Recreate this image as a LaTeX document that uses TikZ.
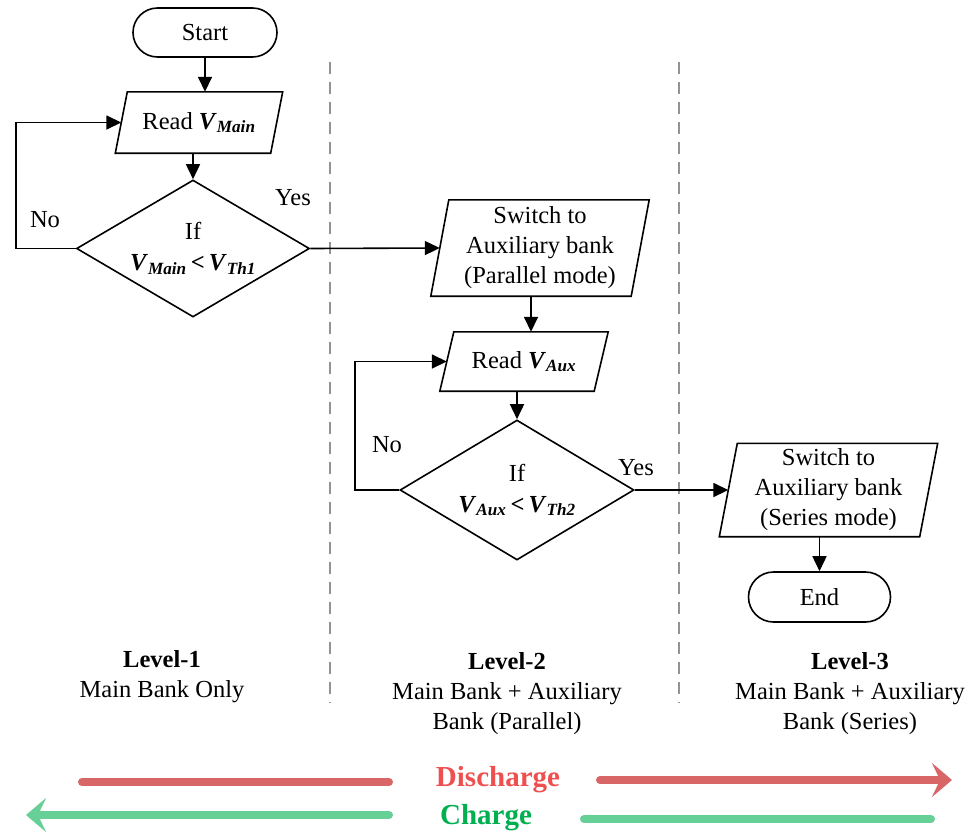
\documentclass[tikz,border=0pt]{standalone}
\usepackage{fontspec}
\setmainfont{Liberation Serif}
\usetikzlibrary{shapes.geometric,shapes.misc,arrows.meta}
\newcommand\bvar[2]{\textbf{\textit{#1}}\textsubscript{\textbf{\textit{#2}}}}
\newcommand\paradraw[2]{\draw[flow] ([xshift=#2/2]#1.north west) -- ([xshift=#2/2]#1.north east) -- ([xshift=-#2/2]#1.south east) -- ([xshift=-#2/2]#1.south west) -- cycle;}
\tikzset{
  mainfont/.style={font=\fontsize{24.5}{30}\selectfont},
  flow/.style={line width=1.6pt, line join=miter},
  term/.style={rounded rectangle, draw, line width=1.6pt, inner sep=0pt, mainfont},
  parabox/.style={inner sep=0pt, align=center, mainfont},
  decide/.style={diamond, draw, line width=1.6pt, inner sep=0pt, aspect=1.7, align=center, mainfont},
  conn/.style={line width=1.6pt, -{Triangle[length=15pt,width=14pt]}},
  lbl/.style={mainfont},
  levtext/.style={align=center, mainfont},
  sep/.style={draw=gray!85, line width=1.5pt, dash pattern=on 12pt off 8pt},
  dis/.style={draw={rgb,255:red,217;green,102;blue,102}, line width=8pt, line cap=round},
  chg/.style={draw={rgb,255:red,102;green,208;blue,150}, line width=8pt, line cap=round},
  bigtip/.style={-{Stealth[length=20pt,width=34pt,inset=8pt]}},
}
\begin{document}
\begin{tikzpicture}[x=1pt,y=-1pt]
\useasboundingbox (0,0) rectangle (972,833);

% separators
\draw[sep] (330,62) -- (330,703);
\draw[sep] (679,62) -- (679,703);

% nodes
\node[term, minimum width=144pt, minimum height=49pt] (start) at (205,32.5) {Start};
\node[parabox, minimum width=155pt, minimum height=61pt] (rm) at (199,122.5) {Read \bvar{V}{Main}};
\paradraw{rm}{12}
\node[decide, minimum width=233pt, minimum height=137pt] (d1) at (193,248.5) {If\\[1pt]\bvar{V}{Main}\,\textbf{<}\,\bvar{V}{Th1}};

\node[parabox, minimum width=200pt, minimum height=96pt] (s1) at (540,248) {Switch to\\Auxiliary bank\\(Parallel mode)};
\paradraw{s1}{18}
\node[parabox, minimum width=154pt, minimum height=59pt] (ra) at (524,361.5) {Read \bvar{V}{Aux}};
\paradraw{ra}{14}
\node[decide, minimum width=234pt, minimum height=140pt] (d2) at (517,490) {If\\[1pt]\bvar{V}{Aux}\,\textbf{<}\,\bvar{V}{Th2}};

\node[parabox, minimum width=200pt, minimum height=93pt] (s3) at (828.5,490) {Switch to\\Auxiliary bank\\(Series mode)};
\paradraw{s3}{18}
\node[term, minimum width=142pt, minimum height=50pt] (end) at (819.5,597) {End};

% connectors
\draw[conn] (start.south) -- ([xshift=6]rm.north);
\draw[conn] ([xshift=-6]rm.south) -- (d1.north);
\draw[conn] (d1.west) -- ++(-60,0) |- (rm.west);
\draw[conn] (d1.east) -- (s1.west);
\draw[conn] ([xshift=-9]s1.south) -- ([xshift=7]ra.north);
\draw[conn] ([xshift=-7]ra.south) -- (d2.north);
\draw[conn] (d2.west) -- ++(-44,0) |- (ra.west);
\draw[conn] (d2.east) -- (s3.west);
\draw[conn] ([xshift=-9]s3.south) -- (end.north);

% labels
\node[lbl] (no1) at (45,220) {No};
\node[lbl] (yes1) at (293,198) {Yes};
\node[lbl] (no2) at (387,445) {No};
\node[lbl] (yes2) at (636,468) {Yes};

% levels
\node[levtext] (lev1) at (162,677) {\textbf{Level-1}\\Main Bank Only};
\node[levtext] (lev2) at (507,694) {\textbf{Level-2}\\Main Bank + Auxiliary\\Bank (Parallel)};
\node[levtext] (lev3) at (850,694) {\textbf{Level-3}\\Main Bank + Auxiliary\\Bank (Series)};

% charge / discharge
\coordinate (da) at (82,782);
\coordinate (db) at (389,782);
\coordinate (dc) at (600,780);
\coordinate (dd) at (952,780);
\coordinate (ca) at (389,815);
\coordinate (cb) at (26,815);
\coordinate (cc) at (584,819);
\coordinate (cd) at (931,819);
\draw[dis] (da) -- (db);
\draw[dis, bigtip] (dc) -- (dd);
\draw[chg] (cc) -- (cd);
\draw[chg, bigtip] (ca) -- (cb);
\node[font=\fontsize{29}{32}\selectfont\bfseries, text={rgb,255:red,238;green,80;blue,80}] (dis) at (498,780) {Discharge};
\node[font=\fontsize{29}{32}\selectfont\bfseries, text={rgb,255:red,0;green,176;blue,80}] (chg) at (486,818) {Charge};
\end{tikzpicture}
\end{document}
